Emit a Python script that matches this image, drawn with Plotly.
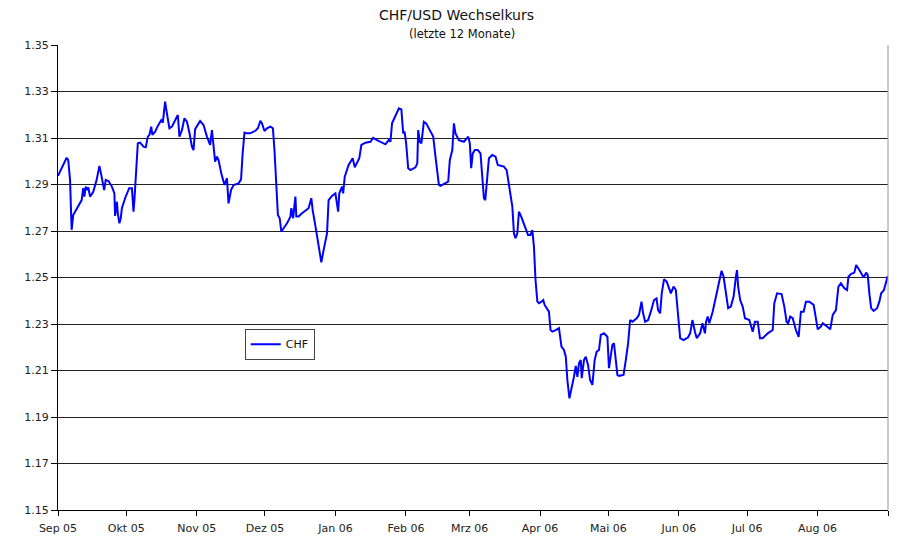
import pandas as pd
import plotly.graph_objects as go

# Days since 2005-09-01 and CHF/USD rate
days = [0, 3.8, 4.5, 5.3, 6.0, 6.7, 10.4, 11.1, 11.6, 12.2, 12.9, 13.3, 14.1, 15.5, 17.0, 18.2,
        18.9, 19.7, 20.3, 21.0, 22.2, 23.7, 24.8, 25.1, 25.9, 26.3, 27.0, 27.6, 28.1, 29.5,
        31.3, 32.5, 33.2, 33.6, 34.4, 35.1, 36.1, 37.6, 38.6, 39.5, 40.2, 41.0, 41.5, 42.7,
        43.9, 45.4, 46.1, 47.1, 47.9, 49.0, 50.1, 51.2, 52.7, 53.4, 54.5, 55.6, 56.7, 57.7,
        58.9, 59.6, 60.3, 62.5, 64.0, 65.5, 66.9, 67.7, 68.4, 69.1, 69.9, 70.6, 71.8, 73.2,
        74.3, 75.0, 76.1, 77.2, 79.4, 80.5, 81.2, 82.0, 83.1, 84.5, 86.8, 87.9, 89.0, 89.7,
        90.8, 91.9, 93.4, 94.5, 95.2, 95.9, 96.7, 97.5, 98.2, 99.2, 100.7, 102.2, 102.6,
        103.4, 104.4, 104.8, 105.8, 107.3, 109.5, 110.2, 111.4, 112.0, 113.5, 114.9, 115.8,
        116.8, 118.3, 119.0, 120.5, 122.0, 123.2, 123.7, 124.9, 125.4, 126.1, 127.8, 129.6,
        130.5, 131.5, 132.5, 133.4, 135.2, 137.4, 138.6, 140.3, 142.5, 144.0, 145.4, 146.2,
        146.9, 148.4, 149.9, 151.0, 151.8, 152.4, 153.1, 154.0, 155.0, 157.2, 158.0, 158.4,
        159.1, 159.8, 160.9, 161.9, 163.8, 165.0, 166.0, 167.5, 168.2, 170.4, 171.6, 172.3,
        173.4, 174.1, 174.8, 176.3, 178.5, 180.4, 181.1, 181.7, 182.4, 183.3, 184.6, 185.8,
        186.6, 187.3, 187.9, 188.5, 189.5, 191.0, 192.4, 193.4, 194.9, 196.1, 197.3, 198.7,
        199.8, 200.5, 201.2, 202.0, 202.7, 203.7, 205.2, 206.7, 207.8, 208.6, 209.3, 210.0,
        210.8, 211.5, 212.6, 213.4, 214.0, 214.9, 215.9, 216.6, 217.4, 218.9, 220.3, 221.4,
        222.5, 223.3, 224.0, 224.9, 225.9, 226.9, 227.7, 228.4, 229.1, 229.9, 230.3, 231.3,
        232.1, 233.1, 234.0, 235.0, 236.0, 236.9, 237.9, 238.7, 240.1, 241.6, 242.3, 243.8,
        244.5, 245.5, 246.0, 246.7, 248.7, 249.7, 250.7, 251.6, 252.6, 254.5, 255.5, 256.6,
        257.3, 258.2, 259.5, 260.7, 262.1, 263.2, 263.9, 264.8, 265.5, 266.5, 267.7, 269.5,
        270.7, 271.7, 272.7, 273.6, 275.1, 277.1, 278.0, 279.0, 280.1, 280.9, 282.4, 283.4,
        284.5, 285.0, 285.7, 286.4, 287.9, 289.3, 290.8, 291.8, 292.7, 293.7, 294.7, 295.9,
        297.1, 298.1, 298.6, 299.1, 300.0, 301.1, 302.1, 304.0, 305.5, 306.5, 307.7, 308.7,
        309.9, 312.1, 314.3, 315.0, 316.2, 318.2, 319.4, 320.4, 321.1, 322.0, 323.1, 324.5,
        325.7, 326.7, 327.9, 328.9, 330.4, 332.3, 333.3, 334.1, 335.5, 336.3, 338.2, 339.6,
        340.7, 342.1, 343.2, 344.3, 345.8, 347.0, 347.6, 348.7, 350.2, 351.0, 352.4, 353.5,
        354.3, 355.4, 356.1, 356.8, 357.6, 358.7, 360.2, 361.2, 362.0, 363.2, 364.2, 364.9]

chf = [1.2937, 1.3015, 1.3005, 1.2920, 1.2705, 1.2769, 1.2833, 1.2884, 1.2848, 1.2891, 1.2876,
       1.2888, 1.2848, 1.2869, 1.2920, 1.2980, 1.2948, 1.2912, 1.2876, 1.2920, 1.2915, 1.2891,
       1.2862, 1.2765, 1.2826, 1.2776, 1.2733, 1.2755, 1.2798, 1.2841, 1.2884, 1.2884, 1.2783,
       1.2833, 1.2977, 1.3077, 1.3080, 1.3063, 1.3060, 1.3106, 1.3113, 1.3149, 1.3113, 1.3127,
       1.3152, 1.3177, 1.3166, 1.3256, 1.3206, 1.3142, 1.3149, 1.3170, 1.3199, 1.3106, 1.3134,
       1.3185, 1.3170, 1.3127, 1.3063, 1.3048, 1.3138, 1.3173, 1.3156, 1.3106, 1.3070, 1.3134,
       1.3063, 1.2998, 1.3020, 1.3005, 1.2948, 1.2898, 1.2927, 1.2819, 1.2876, 1.2898, 1.2905,
       1.2922, 1.3034, 1.3123, 1.3120, 1.3120, 1.3131, 1.3142, 1.3174, 1.3163, 1.3130, 1.3142,
       1.3149, 1.3142, 1.3048, 1.2891, 1.2769, 1.2755, 1.2697, 1.2712, 1.2733, 1.2762, 1.2798,
       1.2755, 1.2848, 1.2762, 1.2762, 1.2776, 1.2790, 1.2798, 1.2841, 1.2790, 1.2704, 1.2618,
       1.2565, 1.2618, 1.2690, 1.2833, 1.2851, 1.2862, 1.2783, 1.2862, 1.2891, 1.2862, 1.2934,
       1.2984, 1.3013, 1.2974, 1.2994, 1.3013, 1.3070, 1.3080, 1.3084, 1.3101, 1.3091, 1.3080,
       1.3073, 1.3091, 1.3084, 1.3163, 1.3195, 1.3228, 1.3223, 1.3120, 1.3127, 1.3077, 1.2970,
       1.2962, 1.2974, 1.2991, 1.3134, 1.3084, 1.3077, 1.3170, 1.3163, 1.3127, 1.3106, 1.3020,
       1.2898, 1.2894, 1.2905, 1.2912, 1.3005, 1.3048, 1.3163, 1.3120, 1.3091, 1.3084, 1.3106,
       1.3077, 1.2970, 1.3034, 1.3048, 1.3048, 1.3034, 1.2920, 1.2841, 1.2833, 1.2905, 1.3013,
       1.3027, 1.3020, 1.2984, 1.2980, 1.2977, 1.2962, 1.2876, 1.2805, 1.2690, 1.2669, 1.2690,
       1.2783, 1.2762, 1.2726, 1.2683, 1.2683, 1.2704, 1.2632, 1.2489, 1.2396, 1.2389, 1.2396,
       1.2403, 1.2382, 1.2368, 1.2353, 1.2274, 1.2267, 1.2274, 1.2282, 1.2203, 1.2188, 1.2159,
       1.2059, 1.1980, 1.2023, 1.2073, 1.2120, 1.2073, 1.2131, 1.2145, 1.2067, 1.2145, 1.2159,
       1.2124, 1.2059, 1.2038, 1.2145, 1.2181, 1.2188, 1.2253, 1.2260, 1.2245, 1.2110, 1.2210,
       1.2217, 1.2140, 1.2081, 1.2077, 1.2081, 1.2145, 1.2217, 1.2317, 1.2310, 1.2325, 1.2339,
       1.2396, 1.2346, 1.2310, 1.2317, 1.2353, 1.2403, 1.2410, 1.2360, 1.2346, 1.2432, 1.2492,
       1.2482, 1.2432, 1.2461, 1.2446, 1.2339, 1.2239, 1.2231, 1.2243, 1.2260, 1.2317, 1.2267,
       1.2239, 1.2260, 1.2303, 1.2260, 1.2310, 1.2332, 1.2303, 1.2353, 1.2418, 1.2489, 1.2529,
       1.2503, 1.2432, 1.2368, 1.2375, 1.2418, 1.2503, 1.2532, 1.2461, 1.2403, 1.2375, 1.2325,
       1.2317, 1.2267, 1.2310, 1.2310, 1.2239, 1.2239, 1.2260, 1.2274, 1.2389, 1.2432, 1.2429,
       1.2375, 1.2310, 1.2303, 1.2332, 1.2325, 1.2274, 1.2245, 1.2353, 1.2353, 1.2396, 1.2396,
       1.2382, 1.2317, 1.2277, 1.2289, 1.2303, 1.2289, 1.2277, 1.2339, 1.2360, 1.2461, 1.2475,
       1.2454, 1.2446, 1.2503, 1.2515, 1.2521, 1.2554, 1.2532, 1.2510, 1.2500, 1.2521, 1.2510,
       1.2432, 1.2368, 1.2356, 1.2368, 1.2396, 1.2432, 1.2446, 1.2482, 1.2506]

month_ticks = ["2005-09-01", "2005-10-01", "2005-11-01", "2005-12-01", "2006-01-01",
               "2006-02-01", "2006-03-01", "2006-04-01", "2006-05-01", "2006-06-01",
               "2006-07-01", "2006-08-01", "2006-09-01"]
month_labels = ["Sep 05", "Okt 05", "Nov 05", "Dez 05", "Jan 06", "Feb 06", "Mrz 06",
                "Apr 06", "Mai 06", "Jun 06", "Jul 06", "Aug 06", ""]
y_ticks = [1.15, 1.17, 1.19, 1.21, 1.23, 1.25, 1.27, 1.29, 1.31, 1.33, 1.35]

start = pd.Timestamp("2005-09-01")
dates = [start + pd.Timedelta(days=d) for d in days]

fig = go.Figure()
fig.add_trace(go.Scatter(x=dates, y=chf, mode="lines", name="CHF",
                         line=dict(color="#0000FF", width=2), hoverinfo="skip"))

font = "DejaVu Sans, Verdana, sans-serif"
fig.update_layout(
    width=889, height=528,
    margin=dict(l=50, r=9, t=37, b=26, autoexpand=False),
    paper_bgcolor="white", plot_bgcolor="white",
    font=dict(family=font, size=11, color="#222"),
    showlegend=True,
    legend=dict(x=0.225, y=0.39, xanchor="left", yanchor="top",
                bordercolor="#444", borderwidth=1, bgcolor="white",
                font=dict(size=11, color="#111"), tracegroupgap=0),
    xaxis=dict(type="date", range=["2005-09-01", "2006-09-01"],
               tickvals=month_ticks, ticktext=month_labels,
               showgrid=False, showline=True, linecolor="black", linewidth=1,
               ticks="outside", ticklen=5, tickcolor="black", ticklabelstandoff=3,
               tickfont=dict(size=11, color="#222"), zeroline=False, automargin=False),
    yaxis=dict(range=[1.15, 1.35], tickvals=y_ticks, tickformat=".2f",
               showgrid=True, gridcolor="#222", gridwidth=1,
               showline=True, linecolor="black", linewidth=1,
               ticks="outside", ticklen=6, tickcolor="black",
               tickfont=dict(size=11, color="#222"), zeroline=False, automargin=False),
    annotations=[
        dict(text="CHF/USD Wechselkurs", x=0.48, y=1, xref="paper", yref="paper",
             yshift=30, showarrow=False, font=dict(size=14, color="#111"), yanchor="middle"),
        dict(text="(letzte 12 Monate)", x=0.487, y=1, xref="paper", yref="paper",
             yshift=11, showarrow=False, font=dict(size=11.5, color="#111"), yanchor="middle"),
    ],
    shapes=[dict(type="line", xref="paper", yref="paper", x0=1, x1=1, y0=0, y1=1,
                 line=dict(color="#999", width=1))],
)

fig.write_html("out.html")
